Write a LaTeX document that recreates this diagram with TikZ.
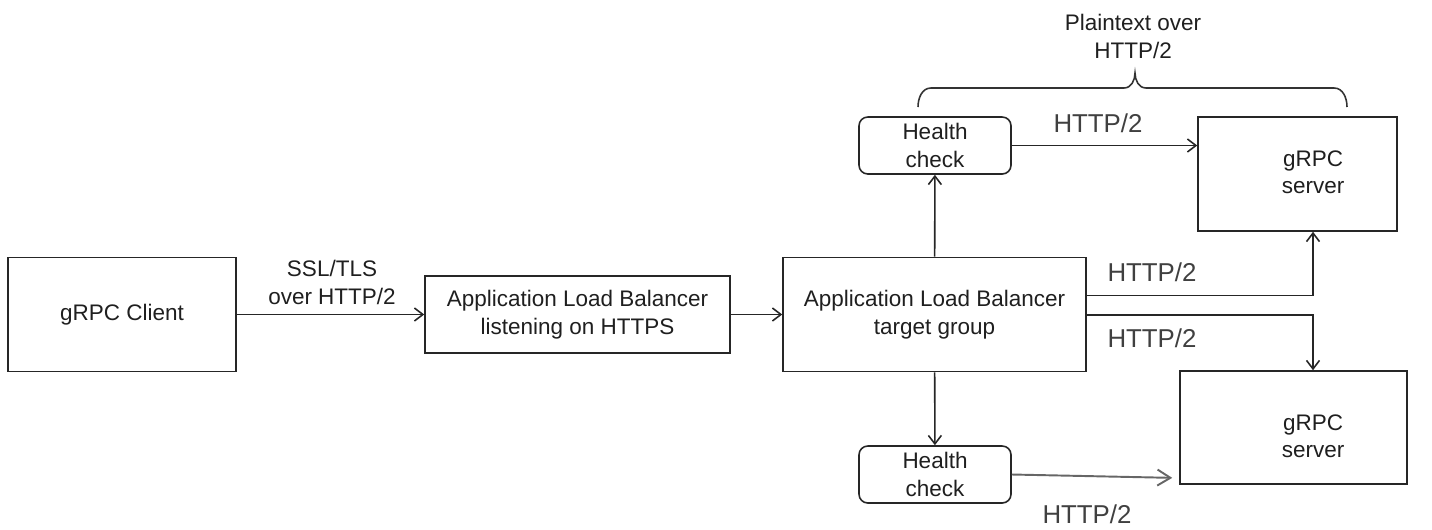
\documentclass[tikz,border=0pt]{standalone}
\usepackage{fontspec}
\setmainfont{Liberation Sans}
\usepackage{xcolor}
\usepackage{tikz}
\usetikzlibrary{arrows.meta, positioning, calc}

\begin{document}
\begin{tikzpicture}[
  box/.style={rectangle, draw=black!85, line width=0.9pt, inner sep=0pt},
  plainBox/.style={box, minimum width=4.56cm, minimum height=2.28cm},
  checkBox/.style={box, rounded corners=5pt, minimum width=3.04cm, minimum height=1.14cm},
  boxText/.style={align=center, text=black!88, font=\fontsize{12.8}{15.6}\selectfont},
  proto/.style={text=black!75, font=\fontsize{14.7}{17}\selectfont},
  arrow/.style={-{Straight Barb[length=1.7mm, width=2.6mm]}, line width=0.9pt, black!85},
  softArrow/.style={-{Straight Barb[length=2.6mm, width=3.2mm]}, line width=1.1pt, black!60}
]
\useasboundingbox (0,0) rectangle (28.64,10.58);
\node[plainBox, boxText] (client) at (2.44,4.29) {gRPC Client};
\node[box, boxText, minimum width=6.10cm, minimum height=1.54cm] (listener) at (11.55,4.29) {Application Load Balancer\\listening on HTTPS};
\node[box, boxText, minimum width=6.06cm, minimum height=2.28cm] (targets) at (18.69,4.29) {Application Load Balancer\\target group};
\node[checkBox, boxText] (checkTop) at (18.70,7.67) {Health\\check};
\node[checkBox, boxText] (checkBot) at (18.70,1.09) {Health\\check};
\node[plainBox, minimum width=3.98cm] (serverTop) at (25.95,7.10) {};
\node[boxText] at (26.26,7.13) {gRPC\\server};
\node[plainBox, minimum width=4.54cm, minimum height=2.26cm] (serverBot) at (25.87,2.03) {};
\node[boxText] at (26.26,1.86) {gRPC\\server};
\draw[arrow] (client) -- (listener);
\node[boxText] at (6.64,4.93) {SSL/TLS\\over HTTP/2};
\draw[arrow] (listener) -- (targets);
\draw[arrow] (targets) -- (checkTop);
\draw[arrow] (targets) -- (checkBot);
\draw[arrow] (checkTop.east) -- (checkTop.east -| serverTop.west);
\node[proto] at (21.96,8.12) {HTTP/2};
\draw[arrow] ([yshift=0.38cm]targets.east) -| ([xshift=0.31cm]serverTop.south);
\node[proto] at (23.04,5.14) {HTTP/2};
\draw[arrow] ([yshift=-0.01cm]targets.east) -| ([xshift=0.39cm]serverBot.north);
\node[proto] at (23.04,3.82) {HTTP/2};
\draw[softArrow, shorten >=0.14cm] (checkBot.east) -- ([yshift=-1.01cm]serverBot.west);
\node[proto] at (21.74,0.29) {HTTP/2};
\draw[line width=0.9pt, black!80] (18.36,8.44) to[out=90, in=180] (18.62,8.82) -- (22.48,8.82) to[out=0, in=-90] (22.70,9.12) to[out=-90, in=180] (22.92,8.82) -- (26.68,8.82) to[out=0, in=90] (26.94,8.44);
\node[boxText] at (22.66,9.85) {Plaintext over\\HTTP/2};
\end{tikzpicture}
\end{document}
